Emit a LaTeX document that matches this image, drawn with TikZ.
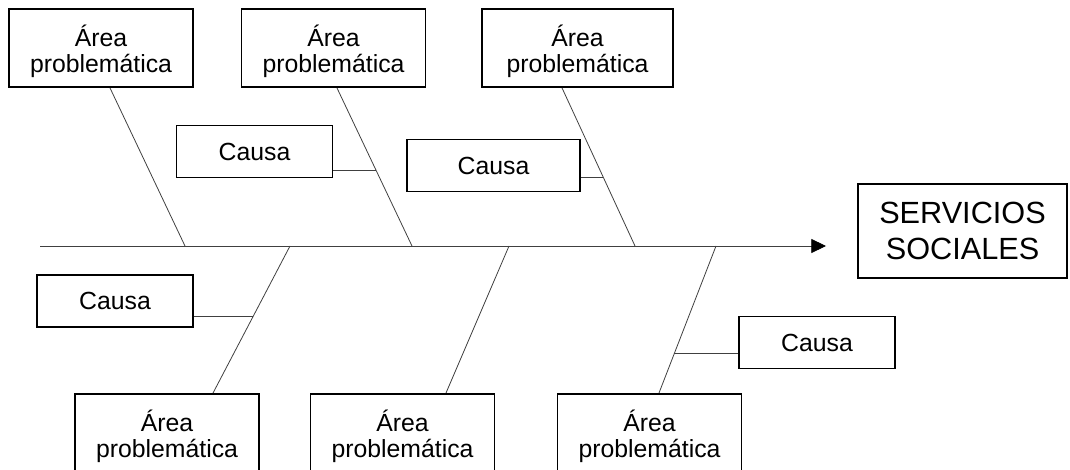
\documentclass[tikz,border=0pt]{standalone}
\usepackage{fontspec}
\setmainfont{Liberation Sans}
\usetikzlibrary{arrows.meta,calc}

\newcommand{\areatxt}{\raisebox{-3.5pt}[\height][\depth]{\begin{tabular}{@{}c@{}}Área\\problemática\end{tabular}}}

\begin{document}
\begin{tikzpicture}[x=0.75pt,y=-0.75pt,
    area/.style={draw,line width=1.4pt,minimum width=138pt,minimum height=58.5pt,inner sep=0pt,
      font=\fontsize{18.6}{20}\selectfont},
    causa/.style={draw,line width=1.4pt,minimum width=117pt,minimum height=39pt,inner sep=0pt,
      font=\fontsize{18.6}{20}\selectfont},
    bone/.style={line width=0.6pt,black!75}]
    \useasboundingbox (0,0) rectangle (1070,470);

    % boxes
    \node[area] at (101,48)    (t1) {\areatxt};
    \node[area] at (333.5,48)  (t2) {\areatxt};
    \node[area,minimum width=143pt] at (577.5,48) (t3) {\areatxt};
    \node[area] at (167,433)   (b1) {\areatxt};
    \node[area] at (402.5,433) (b2) {\areatxt};
    \node[area] at (649.5,433) (b3) {\areatxt};

    \node[causa] at (254.5,151.5) (c1) {Causa};
    \node[causa,minimum width=130pt] at (493.5,165.5) (c2) {Causa};
    \node[causa] at (115,301)   (c3) {Causa};
    \node[causa] at (817,342.5) (c4) {Causa};

    \node[draw,line width=1.4pt,minimum width=156.75pt,minimum height=70.5pt,inner sep=0pt,
      align=center,font=\fontsize{23}{27}\selectfont] at (962.5,231) (efecto) {SERVICIOS\\SOCIALES};

    % spine
    \coordinate (cola) at (40,246);
    \coordinate (punta) at (826,246);
    \draw[bone,-{Triangle[length=11pt,width=10.5pt,black]}] (cola) -- (punta);

    \coordinate (j1) at (185,246);
    \coordinate (j2) at (412,246);
    \coordinate (j3) at (635,246);
    \coordinate (j4) at (290,246);
    \coordinate (j5) at (509,246);
    \coordinate (j6) at (716,246);

    % bones
    \coordinate (p1) at ([xshift=6.75pt]t1.south);
    \coordinate (p2) at ([xshift=2.6pt]t2.south);
    \coordinate (p3) at ([xshift=-11.6pt]t3.south);
    \coordinate (q1) at ([xshift=34.5pt]b1.north);
    \coordinate (q2) at ([xshift=32.6pt]b2.north);
    \coordinate (q3) at ([xshift=7.1pt]b3.north);
    \draw[bone] (p1) -- (j1);
    \draw[bone] (p2) -- (j2);
    \draw[bone] (p3) -- (j3);
    \draw[bone] (q1) -- (j4);
    \draw[bone] (q2) -- (j5);
    \draw[bone] (q3) -- (j6);

    % causes
    \coordinate (k1) at ($(p2)!0.522!(j2)$);
    \coordinate (k2) at ($(p3)!0.566!(j3)$);
    \coordinate (k3) at ($(j4)!0.48!(q1)$);
    \coordinate (k4) at ($(j6)!0.73!(q3)$);
    \draw[bone] (k1 -| c1.east) -- (k1);
    \draw[bone] (k2 -| c2.east) -- (k2);
    \draw[bone] (k3 -| c3.east) -- (k3);
    \draw[bone] (k4 -| c4.west) -- (k4);
\end{tikzpicture}
\end{document}
